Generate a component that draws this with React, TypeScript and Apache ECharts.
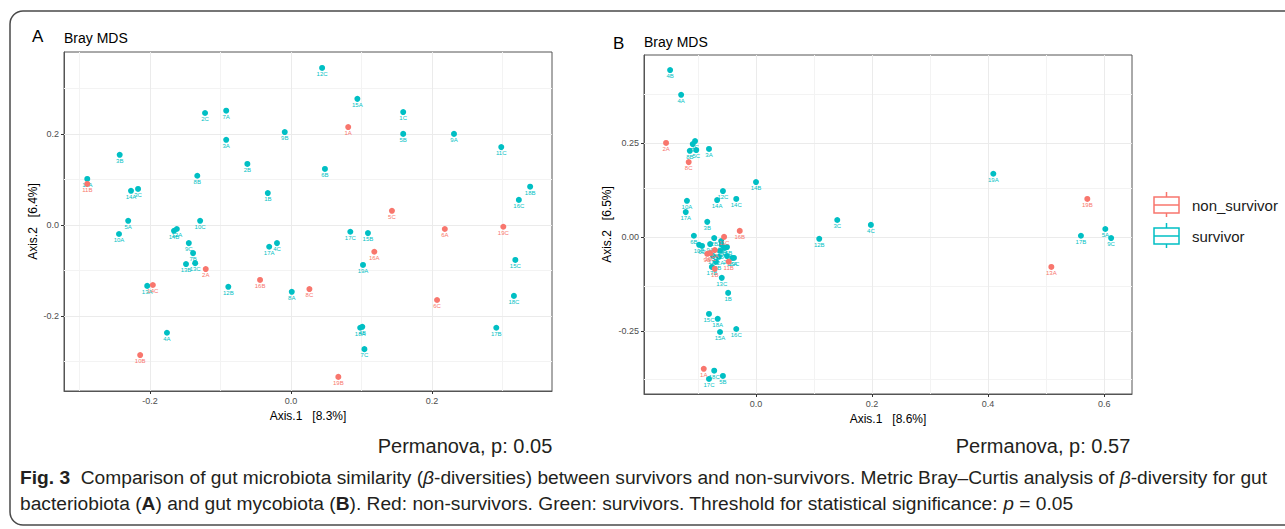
import React, { useEffect, useRef } from 'react';
import * as echarts from 'echarts';

const RED = '#F8766D';
const TEAL = '#00BFC4';
const FONT = 'Liberation Sans, Arial, Helvetica, sans-serif';

// ---------- Panel A: gut bacteriobiota ----------
const aLabels = ['12C','2C','7A','3A','9B','3B','2B','6B','8B','11A','11B','14A','3C','1B','15A','1C','1A','5B','9A','11C','18B','16C','5A','10A','14B','12A','10C','9C','7B','13B','13C','2A','13A','14C','12B','16B','8A','8C','4A','10B','17A','4C','5C','17C','15B','6A','19C','16A','19A','15C','18C','6C','18A','4B','17B','7C','19B'];
const aX = [0.044,-0.122,-0.092,-0.092,-0.009,-0.243,-0.062,0.048,-0.133,-0.289,-0.289,-0.227,-0.217,-0.033,0.094,0.159,0.081,0.159,0.231,0.298,0.339,0.323,-0.231,-0.244,-0.166,-0.162,-0.129,-0.145,-0.139,-0.149,-0.136,-0.121,-0.204,-0.196,-0.089,-0.044,0.001,0.026,-0.176,-0.214,-0.031,-0.020,0.143,0.084,0.109,0.218,0.301,0.118,0.102,0.318,0.316,0.207,0.098,0.101,0.291,0.104,0.067];
const aY = [0.345,0.246,0.251,0.187,0.204,0.154,0.134,0.123,0.108,0.101,0.090,0.075,0.079,0.070,0.277,0.248,0.215,0.200,0.200,0.171,0.084,0.055,0.009,-0.020,-0.013,-0.009,0.009,-0.040,-0.062,-0.086,-0.084,-0.097,-0.134,-0.132,-0.136,-0.121,-0.147,-0.141,-0.237,-0.286,-0.048,-0.040,0.031,-0.015,-0.018,-0.009,-0.004,-0.059,-0.088,-0.077,-0.156,-0.165,-0.226,-0.224,-0.226,-0.273,-0.334];
const aGroup = ['s','s','s','s','s','s','s','s','s','s','n','s','s','s','s','s','n','s','s','s','s','s','s','s','s','s','s','s','s','s','s','n','s','n','s','n','s','n','s','n','s','s','n','s','s','n','n','n','s','s','s','n','s','s','s','s','n'];
const aXTicks = [-0.2, 0, 0.2];
const aXMinor = [-0.3, -0.1, 0.1, 0.3];
const aYTicks = [-0.2, 0, 0.2];
const aYMinor = [-0.3, -0.1, 0.1, 0.3];
const aXRange = [-0.322, 0.37];
const aYRange = [-0.365, 0.38];

// ---------- Panel B: gut mycobiota ----------
const bLabels = ['4B','4A','2A','8B','5C','7A','1C','3A','8C','14B','12C','14A','14C','10A','17A','3B','16B','6B','2B','11C','7C','10B','6C','9A','13B','15B','6A','7B','8A','9B','10C','11A','12A','2C','16A','19C','11B','18B','17B','1B','13C','1B','15C','18A','16C','15A','1A','18C','17C','5B','3C','4C','19A','19B','17B','5A','9C','13A','12B'];
const bX = [-0.148,-0.129,-0.155,-0.114,-0.103,-0.109,-0.105,-0.081,-0.116,0.000,-0.057,-0.067,-0.034,-0.119,-0.121,-0.084,-0.028,-0.107,-0.072,-0.055,-0.060,-0.098,-0.093,-0.079,-0.059,-0.050,-0.071,-0.062,-0.055,-0.084,-0.079,-0.074,-0.064,-0.050,-0.041,-0.038,-0.047,-0.069,-0.076,-0.071,-0.059,-0.048,-0.081,-0.066,-0.034,-0.062,-0.090,-0.072,-0.081,-0.057,0.140,0.198,0.409,0.571,0.560,0.602,0.612,0.509,0.109];
const bY = [0.444,0.378,0.250,0.229,0.231,0.247,0.255,0.234,0.199,0.146,0.122,0.098,0.101,0.096,0.066,0.040,0.016,0.003,-0.003,0.000,-0.011,-0.021,-0.024,-0.019,-0.021,-0.027,-0.035,-0.037,-0.029,-0.045,-0.043,-0.051,-0.053,-0.051,-0.056,-0.056,-0.066,-0.066,-0.080,-0.085,-0.109,-0.149,-0.205,-0.218,-0.245,-0.253,-0.351,-0.356,-0.378,-0.370,0.045,0.032,0.168,0.101,0.003,0.021,-0.003,-0.080,-0.005];
const bGroup = ['s','s','n','s','s','s','s','s','n','s','s','s','s','s','s','s','n','s','s','n','s','s','s','s','s','s','n','s','s','n','n','s','s','s','s','s','n','s','s','n','s','s','s','s','s','s','n','s','s','s','s','s','s','n','s','s','s','n','s'];
const bXTicks = [0, 0.2, 0.4, 0.6];
const bXMinor = [-0.1, 0.1, 0.3, 0.5];
const bYTicks = [-0.25, 0, 0.25];
const bYMinor = [-0.375, -0.125, 0.125, 0.375];
const bXRange = [-0.193, 0.648];
const bYRange = [-0.418, 0.484];

const legendItems = ['non_survivor', 'survivor'];

const MAJOR = '#ebebeb';
const MINOR = '#f3f3f3';

function gridSeries(idx: number, xMaj: number[], xMin: number[], yMaj: number[], yMin: number[]) {
  const mk = (vals: number[], key: 'xAxis' | 'yAxis', color: string) =>
    vals.map((v) => ({ [key]: v, lineStyle: { color, width: 1, type: 'solid' } }));
  return {
    type: 'scatter',
    xAxisIndex: idx,
    yAxisIndex: idx,
    data: [],
    silent: true,
    z: 1,
    markLine: {
      silent: true,
      z: 1,
      symbol: ['none', 'none'],
      label: { show: false },
      emphasis: { disabled: true },
      data: [
        ...mk(xMin, 'xAxis', MINOR),
        ...mk(yMin, 'yAxis', MINOR),
        ...mk(xMaj, 'xAxis', MAJOR),
        ...mk(yMaj, 'yAxis', MAJOR),
      ],
    },
  };
}

function pointSeries(idx: number, labels: string[], xs: number[], ys: number[], groups: string[], g: string, color: string) {
  const data: any[] = [];
  labels.forEach((l, i) => {
    if (groups[i] === g) data.push([xs[i], ys[i], l]);
  });
  return {
    type: 'scatter',
    name: g === 'n' ? 'non_survivor' : 'survivor',
    xAxisIndex: idx,
    yAxisIndex: idx,
    symbolSize: 6,
    z: g === 'n' ? 11 : 10,
    itemStyle: { color, opacity: 1 },
    label: {
      show: true,
      position: 'bottom',
      distance: 0,
      fontSize: 6,
      color,
      fontFamily: FONT,
      formatter: (p: any) => p.data[2],
    },
    labelLayout: { hideOverlap: false },
    data,
  };
}

function xAxisCfg(idx: number, range: number[], ticks: number[], digits: number, name: string, gap: number) {
  return {
    gridIndex: idx,
    type: 'value',
    min: range[0],
    max: range[1],
    splitLine: { show: false },
    axisLine: { show: true, onZero: false, lineStyle: { color: '#555', width: 1 } },
    axisTick: { show: true, customValues: ticks, length: 3, lineStyle: { color: '#333' } },
    axisLabel: { customValues: ticks, formatter: (v: number) => v.toFixed(digits), fontSize: 9, color: '#4d4d4d', margin: 5, fontFamily: FONT },
    name,
    nameLocation: 'middle',
    nameGap: gap,
    nameTextStyle: { fontSize: 12, color: '#000', fontFamily: FONT },
  };
}

function yAxisCfg(idx: number, range: number[], ticks: number[], digits: number, name: string, gap: number) {
  return {
    gridIndex: idx,
    type: 'value',
    min: range[0],
    max: range[1],
    splitLine: { show: false },
    axisLine: { show: true, onZero: false, lineStyle: { color: '#555', width: 1 } },
    axisTick: { show: true, customValues: ticks, length: 3, lineStyle: { color: '#333' } },
    axisLabel: { customValues: ticks, formatter: (v: number) => v.toFixed(digits), fontSize: 9, color: '#4d4d4d', margin: 5, fontFamily: FONT },
    name,
    nameLocation: 'middle',
    nameGap: gap,
    nameTextStyle: { fontSize: 12, color: '#000', fontFamily: FONT },
  };
}

function legendGraphic() {
  const items: any[] = [];
  const colors = [RED, TEAL];
  legendItems.forEach((txt, i) => {
    const cy = 205 + i * 31;
    const c = colors[i];
    items.push(
      { type: 'line', shape: { x1: 1166.5, y1: cy - 13, x2: 1166.5, y2: cy + 12 }, style: { stroke: c, lineWidth: 1.5 } },
      { type: 'rect', shape: { x: 1154, y: cy - 8, width: 25, height: 16 }, style: { fill: '#fff', stroke: c, lineWidth: 1.5 } },
      { type: 'line', shape: { x1: 1154, y1: cy, x2: 1179, y2: cy }, style: { stroke: c, lineWidth: 1.5 } },
      { type: 'text', x: 1192, y: cy, style: { text: txt, fontSize: 15, fill: '#1a1a1a', fontFamily: FONT, textVerticalAlign: 'middle', textAlign: 'left' } },
    );
  });
  return items;
}

const CAP = 19.2;
const CAP_STYLE = { fontSize: CAP, fontFamily: FONT, fill: '#231f20' };
const rich = {
  b: { fontWeight: 'bold', fontSize: CAP, fontFamily: FONT, color: '#231f20' },
  i: { fontStyle: 'italic', fontSize: CAP, fontFamily: FONT, color: '#231f20' },
};

const option: any = {
  animation: false,
  backgroundColor: '#fff',
  textStyle: { fontFamily: FONT },
  grid: [
    { left: 64, top: 52, width: 488, height: 339, show: true, borderColor: '#555', borderWidth: 1, backgroundColor: 'transparent' },
    { left: 644, top: 55, width: 488, height: 339, show: true, borderColor: '#555', borderWidth: 1, backgroundColor: 'transparent' },
  ],
  xAxis: [
    xAxisCfg(0, aXRange, aXTicks, 1, 'Axis.1   [8.3%]', 17),
    xAxisCfg(1, bXRange, bXTicks, 1, 'Axis.1   [8.6%]', 15),
  ],
  yAxis: [
    yAxisCfg(0, aYRange, aYTicks, 1, 'Axis.2   [6.4%]', 25),
    yAxisCfg(1, bYRange, bYTicks, 2, 'Axis.2   [6.5%]', 31),
  ],
  series: [
    gridSeries(0, aXTicks, aXMinor, aYTicks, aYMinor),
    gridSeries(1, bXTicks, bXMinor, bYTicks, bYMinor),
    pointSeries(0, aLabels, aX, aY, aGroup, 's', TEAL),
    pointSeries(0, aLabels, aX, aY, aGroup, 'n', RED),
    pointSeries(1, bLabels, bX, bY, bGroup, 's', TEAL),
    pointSeries(1, bLabels, bX, bY, bGroup, 'n', RED),
  ],
  graphic: [
    { type: 'rect', shape: { x: 10, y: 11, width: 1300, height: 514, r: 13 }, style: { fill: 'none', stroke: '#4a4a4a', lineWidth: 1.5 }, z: 0 },
    { type: 'text', x: 32, y: 36, style: { text: 'A', fontSize: 17, fill: '#000', fontFamily: FONT, textVerticalAlign: 'middle' } },
    { type: 'text', x: 64, y: 38, style: { text: 'Bray MDS', fontSize: 14, fill: '#000', fontFamily: FONT, textVerticalAlign: 'middle' } },
    { type: 'text', x: 613, y: 43, style: { text: 'B', fontSize: 17, fill: '#000', fontFamily: FONT, textVerticalAlign: 'middle' } },
    { type: 'text', x: 644, y: 42, style: { text: 'Bray MDS', fontSize: 14, fill: '#000', fontFamily: FONT, textVerticalAlign: 'middle' } },
    { type: 'text', x: 465, y: 446, style: { text: 'Permanova, p: 0.05', fontSize: 20, fill: '#231f20', fontFamily: FONT, textAlign: 'center', textVerticalAlign: 'middle' } },
    { type: 'text', x: 1043, y: 446, style: { text: 'Permanova, p: 0.57', fontSize: 20, fill: '#231f20', fontFamily: FONT, textAlign: 'center', textVerticalAlign: 'middle' } },
    {
      type: 'text', x: 20, y: 477,
      style: { ...CAP_STYLE, textVerticalAlign: 'middle', rich,
        text: '{b|Fig. 3}  Comparison of gut microbiota similarity ({i|β}-diversities) between survivors and non-survivors. Metric Bray–Curtis analysis of {i|β}-diversity for gut' },
    },
    {
      type: 'text', x: 20, y: 503,
      style: { ...CAP_STYLE, textVerticalAlign: 'middle', rich,
        text: 'bacteriobiota ({b|A}) and gut mycobiota ({b|B}). Red: non-survivors. Green: survivors. Threshold for statistical significance: {i|p} = 0.05' },
    },
    ...legendGraphic(),
  ],
};

export default function App() {
  const ref = useRef<HTMLDivElement>(null);
  useEffect(() => {
    document.body.style.margin = '0';
    const chart = echarts.init(ref.current as HTMLDivElement, null, { renderer: 'svg' });
    chart.setOption(option);
    return () => chart.dispose();
  }, []);
  return <div ref={ref} style={{ width: 1285, height: 529 }} />;
}
